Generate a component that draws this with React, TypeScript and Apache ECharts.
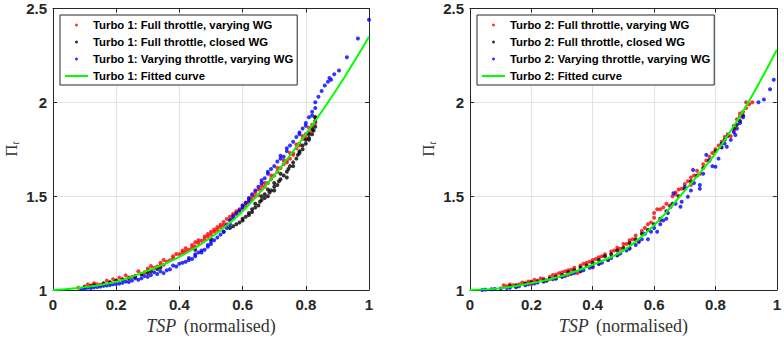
import React, { useEffect, useRef } from "react";
import * as echarts from "echarts";

// ---------- data ----------
const X_TICKS = [0, 0.2, 0.4, 0.6, 0.8, 1];
const Y_TICKS = [1, 1.5, 2, 2.5];

const names1 = [
  "Turbo 1: Full throttle, varying WG",
  "Turbo 1: Full throttle, closed WG",
  "Turbo 1: Varying throttle, varying WG",
  "Turbo 1: Fitted curve",
];
const names2 = [
  "Turbo 2: Full throttle, varying WG",
  "Turbo 2: Full throttle, closed WG",
  "Turbo 2: Varying throttle, varying WG",
  "Turbo 2: Fitted curve",
];

const t1Red = [
  [0.08, 1.012], [0.1, 1.018], [0.12, 1.024], [0.14, 1.03], [0.15, 1.028], [0.16, 1.034], [0.18, 1.042],
  [0.2, 1.05], [0.22, 1.058], [0.24, 1.066], [0.25, 1.07], [0.26, 1.076], [0.28, 1.086], [0.3, 1.104],
  [0.32, 1.118], [0.34, 1.13], [0.35, 1.135], [0.36, 1.15], [0.38, 1.168], [0.4, 1.19], [0.42, 1.205],
  [0.44, 1.225], [0.45, 1.232], [0.46, 1.25], [0.48, 1.27], [0.5, 1.295], [0.52, 1.32], [0.54, 1.345],
  [0.55, 1.35], [0.56, 1.375], [0.58, 1.405], [0.6, 1.435], [0.62, 1.465], [0.64, 1.5], [0.65, 1.505],
  [0.66, 1.535], [0.68, 1.57], [0.7, 1.61], [0.72, 1.65], [0.74, 1.69], [0.75, 1.7], [0.76, 1.73],
  [0.78, 1.78], [0.8, 1.83], [0.81, 1.84], [0.82, 1.88], [0.83, 1.89], [0.83, 1.92],
  [0.29, 1.095], [0.33, 1.125], [0.37, 1.158], [0.41, 1.198], [0.43, 1.215], [0.47, 1.262], [0.49, 1.285],
  [0.51, 1.31], [0.53, 1.335], [0.57, 1.39], [0.59, 1.42], [0.61, 1.45], [0.63, 1.482], [0.67, 1.55],
  [0.69, 1.59], [0.71, 1.63], [0.73, 1.67], [0.77, 1.755], [0.79, 1.805],
  [0.11, 1.03], [0.13, 1.036], [0.17, 1.05], [0.19, 1.058], [0.21, 1.066], [0.23, 1.078], [0.27, 1.1],
  [0.31, 1.128], [0.35, 1.16], [0.39, 1.192], [0.41, 1.21], [0.45, 1.255], [0.49, 1.298], [0.51, 1.322],
  [0.53, 1.348], [0.55, 1.378], [0.57, 1.405], [0.59, 1.43], [0.61, 1.465], [0.63, 1.5], [0.65, 1.535],
  [0.67, 1.57], [0.69, 1.61], [0.71, 1.65], [0.73, 1.69], [0.75, 1.73], [0.77, 1.775], [0.79, 1.82],
  [0.81, 1.865], [0.82, 1.85], [0.8, 1.81], [0.78, 1.77], [0.76, 1.72], [0.74, 1.68],
  [0.3, 1.115], [0.34, 1.145], [0.38, 1.18], [0.42, 1.222], [0.44, 1.24], [0.46, 1.265], [0.48, 1.285],
  [0.5, 1.31], [0.52, 1.335], [0.54, 1.362], [0.56, 1.39], [0.58, 1.42], [0.6, 1.45], [0.62, 1.485],
  [0.64, 1.52], [0.66, 1.555],
];
const t1Black = [
  [0.1, 1.015], [0.13, 1.025], [0.16, 1.035], [0.2, 1.05], [0.24, 1.063], [0.28, 1.082], [0.31, 1.1],
  [0.34, 1.12], [0.45, 1.215], [0.5, 1.27], [0.54, 1.31], [0.57, 1.34], [0.58, 1.35], [0.59, 1.36],
  [0.6, 1.38], [0.61, 1.39], [0.62, 1.41], [0.63, 1.43], [0.64, 1.44], [0.64, 1.46], [0.655, 1.47],
  [0.66, 1.5], [0.67, 1.49], [0.68, 1.535], [0.685, 1.52], [0.7, 1.55], [0.7, 1.57], [0.715, 1.58],
  [0.72, 1.62], [0.73, 1.61], [0.745, 1.645], [0.75, 1.66], [0.76, 1.68], [0.77, 1.7], [0.775, 1.72],
  [0.79, 1.75], [0.79, 1.77], [0.8, 1.8], [0.81, 1.8], [0.81, 1.83], [0.82, 1.86], [0.825, 1.85],
  [0.83, 1.87], [0.83, 1.9],
  [0.56, 1.33], [0.6, 1.37], [0.62, 1.4], [0.63, 1.415], [0.65, 1.45], [0.67, 1.51], [0.69, 1.53],
  [0.71, 1.56], [0.72, 1.59], [0.74, 1.63], [0.76, 1.66], [0.78, 1.73], [0.8, 1.78], [0.82, 1.83],
  [0.83, 1.92], [0.68, 1.5], [0.66, 1.48], [0.7, 1.53], [0.74, 1.6], [0.78, 1.74], [0.81, 1.81],
  [0.12, 1.02], [0.18, 1.04], [0.22, 1.055], [0.26, 1.07], [0.3, 1.09], [0.33, 1.112],
];
const t1Blue = [
  [0.09, 1.005], [0.12, 1.01], [0.15, 1.018], [0.18, 1.026], [0.21, 1.034], [0.24, 1.043], [0.27, 1.055],
  [0.3, 1.07], [0.33, 1.085], [0.35, 1.09], [0.36, 1.105], [0.39, 1.125], [0.4, 1.14], [0.42, 1.15],
  [0.44, 1.165], [0.45, 1.18], [0.47, 1.2], [0.48, 1.215], [0.5, 1.245], [0.52, 1.28], [0.54, 1.31],
  [0.55, 1.33], [0.56, 1.37], [0.57, 1.38], [0.58, 1.41], [0.6, 1.45], [0.61, 1.465], [0.62, 1.49],
  [0.64, 1.53], [0.66, 1.57], [0.67, 1.595], [0.68, 1.62], [0.7, 1.66], [0.72, 1.7], [0.73, 1.71],
  [0.74, 1.74], [0.76, 1.79], [0.78, 1.84], [0.79, 1.86], [0.8, 1.89], [0.82, 1.95], [0.83, 2.0],
  [0.84, 2.03], [0.85, 2.06], [0.86, 2.09], [0.87, 2.11], [0.875, 2.13], [0.88, 2.12], [0.89, 2.15],
  [0.905, 2.17], [0.93, 2.24], [0.965, 2.34], [1.0, 2.44],
  [0.26, 1.062], [0.32, 1.095], [0.38, 1.13], [0.43, 1.17], [0.46, 1.2], [0.49, 1.24], [0.51, 1.265],
  [0.1, 1.008], [0.11, 1.012], [0.13, 1.014], [0.14, 1.016], [0.16, 1.022], [0.17, 1.024], [0.19, 1.03],
  [0.2, 1.032], [0.22, 1.038], [0.23, 1.045], [0.25, 1.05], [0.28, 1.062], [0.29, 1.075], [0.31, 1.08],
  [0.34, 1.1], [0.37, 1.11], [0.41, 1.145], [0.43, 1.16], [0.45, 1.19], [0.47, 1.21], [0.49, 1.23],
  [0.5, 1.26], [0.53, 1.295], [0.55, 1.345], [0.56, 1.35], [0.57, 1.395], [0.59, 1.425], [0.6, 1.44],
  [0.62, 1.475], [0.63, 1.51], [0.65, 1.55], [0.66, 1.585], [0.68, 1.63], [0.69, 1.645], [0.71, 1.685],
  [0.72, 1.715], [0.74, 1.755], [0.75, 1.77], [0.77, 1.815], [0.78, 1.83], [0.8, 1.875], [0.81, 1.92],
  [0.82, 1.93], [0.83, 1.97],
];
const t1Fit = [
  [0, 1.0], [0.1, 1.015], [0.2, 1.044], [0.3, 1.103], [0.4, 1.177], [0.5, 1.28], [0.6, 1.42],
  [0.7, 1.61], [0.8, 1.83], [0.9, 2.075], [1.0, 2.35],
];

const t2Red = [
  [0.12, 1.02], [0.14, 1.026], [0.15, 1.02], [0.16, 1.03], [0.18, 1.036], [0.2, 1.045], [0.22, 1.05],
  [0.24, 1.06], [0.25, 1.05], [0.26, 1.07], [0.28, 1.082], [0.3, 1.095], [0.3, 1.07], [0.32, 1.105],
  [0.34, 1.118], [0.35, 1.09], [0.36, 1.13], [0.38, 1.145], [0.4, 1.16], [0.4, 1.12], [0.42, 1.175],
  [0.44, 1.19], [0.45, 1.16], [0.46, 1.205], [0.48, 1.225], [0.5, 1.245], [0.52, 1.265], [0.54, 1.29],
  [0.55, 1.255], [0.56, 1.315], [0.58, 1.35], [0.6, 1.385], [0.61, 1.43], [0.62, 1.43], [0.64, 1.46],
  [0.65, 1.45], [0.66, 1.5], [0.67, 1.52], [0.68, 1.535], [0.7, 1.565], [0.72, 1.6], [0.74, 1.635],
  [0.75, 1.62], [0.76, 1.67], [0.78, 1.71], [0.8, 1.75], [0.82, 1.79], [0.84, 1.83], [0.85, 1.82],
  [0.86, 1.875], [0.88, 1.925], [0.89, 1.95], [0.9, 1.97], [0.92, 2.0],
  [0.11, 1.025], [0.13, 1.03], [0.17, 1.04], [0.19, 1.045], [0.21, 1.055], [0.23, 1.062], [0.27, 1.08],
  [0.29, 1.09], [0.31, 1.1], [0.33, 1.108], [0.37, 1.14], [0.39, 1.15], [0.41, 1.165], [0.43, 1.18],
  [0.47, 1.21], [0.49, 1.22], [0.51, 1.245], [0.53, 1.27], [0.57, 1.33], [0.59, 1.36], [0.6, 1.41],
  [0.63, 1.44], [0.67, 1.51], [0.69, 1.54], [0.71, 1.58], [0.73, 1.61], [0.77, 1.69], [0.79, 1.73],
  [0.81, 1.77], [0.83, 1.815], [0.87, 1.91], [0.91, 1.99], [0.9, 2.0], [0.88, 1.94], [0.32, 1.08],
  [0.36, 1.1], [0.42, 1.14], [0.48, 1.185], [0.52, 1.225], [0.62, 1.37], [0.72, 1.56], [0.82, 1.76],
  [0.86, 1.85], [0.2, 1.03], [0.24, 1.045], [0.28, 1.06],
];
const t2Black = [
  [0.13, 1.02], [0.18, 1.033], [0.22, 1.045], [0.26, 1.06], [0.3, 1.08], [0.32, 1.095], [0.34, 1.105],
  [0.38, 1.13], [0.42, 1.16], [0.44, 1.18], [0.46, 1.19], [0.5, 1.225], [0.54, 1.27], [0.56, 1.3],
  [0.58, 1.32], [0.62, 1.38], [0.64, 1.42], [0.66, 1.46], [0.7, 1.54], [0.72, 1.58], [0.74, 1.61],
  [0.78, 1.69], [0.8, 1.74], [0.82, 1.78], [0.84, 1.82], [0.86, 1.86], [0.89, 1.93],
  [0.15, 1.025], [0.2, 1.04], [0.24, 1.052], [0.28, 1.07], [0.36, 1.12], [0.4, 1.145], [0.48, 1.21],
  [0.52, 1.25], [0.6, 1.35], [0.68, 1.5], [0.76, 1.65], [0.83, 1.8], [0.87, 1.88], [0.88, 1.9],
];
const t2Blue = [
  [0.04, 1.0], [0.07, 1.004], [0.1, 1.008], [0.13, 1.012], [0.16, 1.02], [0.19, 1.03], [0.22, 1.04],
  [0.25, 1.05], [0.28, 1.062], [0.31, 1.075], [0.34, 1.09], [0.37, 1.105], [0.4, 1.125], [0.43, 1.145],
  [0.46, 1.17], [0.49, 1.195], [0.52, 1.22], [0.55, 1.26], [0.57, 1.3], [0.58, 1.27], [0.6, 1.33],
  [0.61, 1.31], [0.62, 1.35], [0.63, 1.37], [0.645, 1.41], [0.654, 1.444], [0.663, 1.515], [0.686, 1.444],
  [0.69, 1.47], [0.7, 1.55], [0.71, 1.497], [0.727, 1.64], [0.73, 1.57], [0.749, 1.56], [0.749, 1.54],
  [0.76, 1.62], [0.77, 1.72], [0.78, 1.69], [0.8, 1.657], [0.81, 1.7], [0.82, 1.76], [0.837, 1.763],
  [0.85, 1.8], [0.865, 1.826], [0.87, 1.86], [0.88, 1.89], [0.94, 2.0], [0.958, 2.015], [0.978, 2.07],
  [0.99, 2.12],
  [0.05, 1.002], [0.08, 1.005], [0.12, 1.01], [0.15, 1.015], [0.18, 1.025], [0.21, 1.035], [0.24, 1.045],
  [0.27, 1.057], [0.3, 1.07], [0.33, 1.085], [0.36, 1.1], [0.39, 1.118], [0.42, 1.138], [0.45, 1.16],
  [0.48, 1.185], [0.51, 1.21], [0.54, 1.24], [0.56, 1.27], [0.59, 1.31], [0.64, 1.38], [0.67, 1.46],
  [0.72, 1.53], [0.79, 1.66], [0.83, 1.78], [0.86, 1.84], [0.89, 1.92],
];
const t2Fit = [
  [0, 1.0], [0.1, 1.01], [0.2, 1.037], [0.3, 1.075], [0.4, 1.135], [0.5, 1.21], [0.6, 1.345],
  [0.7, 1.53], [0.8, 1.728], [0.9, 1.98], [1.0, 2.28],
];

// ---------- styles ----------
const AX = "#262626";
const SANS = "'Liberation Sans', Arial, sans-serif";
const SERIF = "'Liberation Serif', 'Times New Roman', serif";

function makeAxes(gridIndex: number) {
  const xBase = {
    type: "value" as const,
    gridIndex,
    min: X_TICKS[0],
    max: X_TICKS[X_TICKS.length - 1],
    interval: X_TICKS[1] - X_TICKS[0],
  };
  const yBase = {
    type: "value" as const,
    gridIndex,
    min: Y_TICKS[0],
    max: Y_TICKS[Y_TICKS.length - 1],
    interval: Y_TICKS[1] - Y_TICKS[0],
  };
  const tick = { show: true, inside: true, length: 4, lineStyle: { color: AX } };
  const line = { show: true, onZero: false, lineStyle: { color: AX, width: 1 } };
  const x = [
    {
      ...xBase,
      position: "bottom",
      axisLine: line,
      axisTick: tick,
      axisLabel: { fontFamily: SANS, fontWeight: "bold", fontSize: 15, color: AX, margin: 7 },
      splitLine: { show: true, lineStyle: { color: "#e3e3e3" } },
      name: "{i|TSP} {n|(normalised)}",
      nameLocation: "middle",
      nameGap: 26,
      nameTextStyle: {
        rich: {
          i: { fontFamily: SERIF, fontStyle: "italic", fontSize: 18, color: "#333", padding: [0, 4, 0, 0] },
          n: { fontFamily: SERIF, fontSize: 18, color: "#333" },
        },
      },
    },
    {
      ...xBase,
      position: "top",
      axisLine: line,
      axisTick: tick,
      axisLabel: { show: false },
      splitLine: { show: false },
    },
  ];
  const y = [
    {
      ...yBase,
      position: "left",
      axisLine: line,
      axisTick: tick,
      axisLabel: { fontFamily: SANS, fontWeight: "bold", fontSize: 15, color: AX, margin: 6 },
      splitLine: { show: true, lineStyle: { color: "#e3e3e3" } },
      name: "{p|Π}{t|t}",
      nameLocation: "middle",
      nameGap: 33,
      nameTextStyle: {
        rich: {
          p: { fontFamily: SERIF, fontSize: 17, color: "#333", lineHeight: 18 },
          t: { fontFamily: SERIF, fontStyle: "italic", fontSize: 10, color: "#333", verticalAlign: "bottom", lineHeight: 10 },
        },
      },
    },
    {
      ...yBase,
      position: "right",
      axisLine: line,
      axisTick: tick,
      axisLabel: { show: false },
      splitLine: { show: false },
    },
  ];
  return { x, y };
}

function makeSeries(names: string[], red: number[][], black: number[][], blue: number[][], fit: number[][], gi: number) {
  const xi = gi * 2;
  const yi = gi * 2;
  const sc = (name: string, data: number[][], color: string) => ({
    type: "scatter",
    name,
    data,
    xAxisIndex: xi,
    yAxisIndex: yi,
    symbol: "circle",
    symbolSize: 4,
    itemStyle: { color },
  });
  return [
    sc(names[0], red, "#ff0000"),
    sc(names[1], black, "#000000"),
    sc(names[2], blue, "#0000ff"),
    {
      type: "line",
      name: names[3],
      data: fit,
      xAxisIndex: xi,
      yAxisIndex: yi,
      symbol: "none",
      showSymbol: false,
      smooth: 0.4,
      lineStyle: { color: "#00ff00", width: 2 },
      itemStyle: { color: "#00ff00" },
    },
  ];
}

function makeLegend(names: string[], left: number) {
  return {
    data: names,
    orient: "vertical",
    left,
    top: 15,
    itemWidth: 23,
    itemHeight: 3,
    itemGap: 3,
    padding: [3, 4, 2, 4],
    borderColor: AX,
    borderWidth: 1,
    borderRadius: 0,
    backgroundColor: "#ffffff",
    selectedMode: false,
    textStyle: { fontFamily: SANS, fontWeight: "bold", fontSize: 11.35, color: "#000", lineHeight: 14 },
  };
}

export default function App() {
  const ref = useRef<HTMLDivElement>(null);
  useEffect(() => {
    if (!ref.current) return;
    const chart = echarts.init(ref.current, null, { renderer: "svg" });
    const a0 = makeAxes(0);
    const a1 = makeAxes(1);
    chart.setOption({
      animation: false,
      backgroundColor: "#ffffff",
      grid: [
        { left: 53, top: 8.5, width: 316, height: 281.5, containLabel: false },
        { left: 470, top: 8.5, width: 316, height: 281.5, containLabel: false },
      ],
      xAxis: [...a0.x, ...a1.x],
      yAxis: [...a0.y, ...a1.y],
      legend: [makeLegend(names1, 60), makeLegend(names2, 477)],
      series: [
        ...makeSeries(names1, t1Red, t1Black, t1Blue, t1Fit, 0),
        ...makeSeries(names2, t2Red, t2Black, t2Blue, t2Fit, 1),
      ],
    });
    return () => chart.dispose();
  }, []);
  return (
    <div
      ref={ref}
      style={{ position: "fixed", left: 0, top: 0, width: 784, height: 340, overflow: "hidden" }}
    />
  );
}
